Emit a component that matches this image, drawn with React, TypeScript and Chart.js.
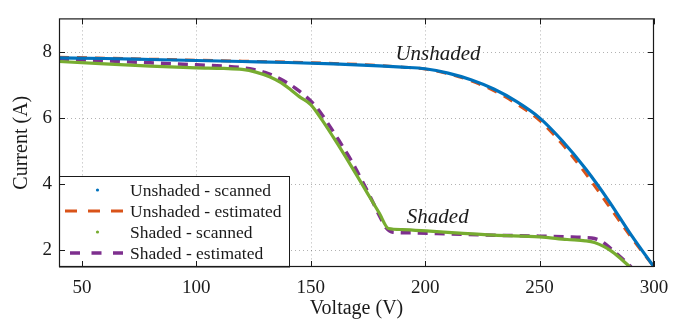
import React, { useEffect, useRef } from "react";
import { Chart, registerables } from "chart.js";

Chart.register(...registerables);

// Unshaded string, scanned operating points
const UNSHADED_SCANNED_V = [40, 60, 80, 100, 120, 140, 160, 180, 190, 200, 210, 220, 230, 240, 250, 260, 270, 280, 290, 300];
const UNSHADED_SCANNED_I = [7.81, 7.79, 7.76, 7.73, 7.70, 7.67, 7.63, 7.57, 7.53, 7.48, 7.35, 7.15, 6.87, 6.49, 6.0, 5.30, 4.47, 3.52, 2.47, 1.5];

// Unshaded string, model estimate
const UNSHADED_EST_V = [40, 60, 80, 100, 120, 140, 160, 180, 190, 200, 210, 220, 230, 240, 250, 260, 270, 280, 290, 300];
const UNSHADED_EST_I = [7.83, 7.80, 7.77, 7.74, 7.71, 7.68, 7.64, 7.58, 7.53, 7.47, 7.33, 7.12, 6.82, 6.42, 5.92, 5.20, 4.33, 3.37, 2.40, 1.5];

// Shaded string, scanned operating points
const SHADED_SCANNED_V = [40, 60, 80, 100, 112, 120, 126, 132, 137, 141, 145, 150, 155, 160, 165, 170, 175, 180, 184, 190, 202, 215, 230, 250, 262, 270, 274, 278, 282, 286, 289.5];
const SHADED_SCANNED_I = [7.70, 7.63, 7.56, 7.51, 7.49, 7.46, 7.38, 7.24, 7.06, 6.86, 6.64, 6.40, 5.93, 5.40, 4.85, 4.28, 3.70, 3.12, 2.66, 2.63, 2.58, 2.52, 2.46, 2.41, 2.33, 2.29, 2.24, 2.12, 1.95, 1.72, 1.5];

// Shaded string, model estimate
const SHADED_EST_V = [40, 60, 80, 100, 119, 125, 130, 137, 144, 152, 158, 163, 168, 172, 176, 180, 183, 186, 195, 210, 230, 250, 262, 270, 274, 277, 280, 284, 287, 290];
const SHADED_EST_I = [7.78, 7.72, 7.66, 7.60, 7.52, 7.46, 7.37, 7.16, 6.86, 6.36, 5.78, 5.24, 4.68, 4.16, 3.62, 3.05, 2.68, 2.55, 2.53, 2.50, 2.46, 2.43, 2.41, 2.39, 2.36, 2.28, 2.12, 1.88, 1.70, 1.5];

const X_TICKS = [50, 100, 150, 200, 250, 300];
const Y_TICKS = [2, 4, 6, 8];

const SERIES_LABELS = [
  "Unshaded - scanned",
  "Unshaded - estimated",
  "Shaded - scanned",
  "Shaded - estimated",
];
const SERIES_COLORS = ["#0072BD", "#D95319", "#77AC30", "#7E2F8E"];

// Curve names written next to each curve (voltage, current of the text's left baseline)
const CURVE_NAMES = ["Unshaded", "Shaded"];
const CURVE_NAME_V = [187, 192];
const CURVE_NAME_I = [7.75, 2.83];

const FONT = "'Liberation Serif', 'Times New Roman', serif";
const INK = "#1a1a1a";

const zip = (xs: number[], ys: number[]) => xs.map((x, i) => ({ x, y: ys[i] }));

// Dotted grid behind the curves
const gridPlugin = {
  id: "dottedGrid",
  beforeDatasetsDraw(chart: any) {
    const { ctx, chartArea: a, scales } = chart;
    ctx.save();
    ctx.strokeStyle = "rgba(0,0,0,0.3)";
    ctx.lineWidth = 1;
    ctx.setLineDash([1, 3]);
    X_TICKS.forEach((v) => {
      const px = Math.round(scales.x.getPixelForValue(v)) + 0.5;
      if (px > a.right - 1) return;
      ctx.beginPath();
      ctx.moveTo(px, a.top);
      ctx.lineTo(px, a.bottom);
      ctx.stroke();
    });
    Y_TICKS.forEach((v) => {
      const py = Math.round(scales.y.getPixelForValue(v)) + 0.5;
      ctx.beginPath();
      ctx.moveTo(a.left, py);
      ctx.lineTo(a.right, py);
      ctx.stroke();
    });
    ctx.restore();
  },
};

// Curve names, legend box, frame and inward tick marks
const framePlugin = {
  id: "frameAndLegend",
  afterDatasetsDraw(chart: any) {
    const { ctx, chartArea: a, scales } = chart;
    ctx.save();

    // curve names
    ctx.fillStyle = INK;
    ctx.font = `italic 21px ${FONT}`;
    ctx.textBaseline = "alphabetic";
    ctx.textAlign = "left";
    CURVE_NAMES.forEach((name, i) => {
      ctx.fillText(
        name,
        scales.x.getPixelForValue(CURVE_NAME_V[i]),
        scales.y.getPixelForValue(CURVE_NAME_I[i])
      );
    });

    // legend
    const lx = a.left + 0.5;
    const ly = 176.5;
    const lw = 230;
    const lh = a.bottom - ly;
    ctx.fillStyle = "#fff";
    ctx.fillRect(lx, ly, lw, lh);
    ctx.strokeStyle = INK;
    ctx.lineWidth = 1;
    ctx.setLineDash([]);
    ctx.strokeRect(lx, ly, lw, lh);

    ctx.font = `17.5px ${FONT}`;
    SERIES_LABELS.forEach((label, i) => {
      const base = 196 + i * 21;
      const cy = base - 6;
      ctx.fillStyle = INK;
      ctx.fillText(label, 130, base);
      ctx.strokeStyle = SERIES_COLORS[i];
      ctx.fillStyle = SERIES_COLORS[i];
      if (i === 0 || i === 2) {
        ctx.beginPath();
        ctx.arc(97.5, cy, 1.6, 0, Math.PI * 2);
        ctx.fill();
      } else if (i === 1) {
        ctx.lineWidth = 3;
        ctx.setLineDash([12, 11]);
        ctx.beginPath();
        ctx.moveTo(65, cy);
        ctx.lineTo(123, cy);
        ctx.stroke();
      } else {
        ctx.lineWidth = 3.5;
        ctx.setLineDash([10, 11.5]);
        ctx.beginPath();
        ctx.moveTo(70, cy);
        ctx.lineTo(123, cy);
        ctx.stroke();
      }
      ctx.setLineDash([]);
    });

    // frame
    ctx.strokeStyle = INK;
    ctx.lineWidth = 1.2;
    ctx.strokeRect(a.left + 0.5, a.top + 0.5, a.right - a.left - 1, a.bottom - a.top - 1);

    // inward tick marks on all four sides
    const tl = 6;
    ctx.lineWidth = 1;
    ctx.beginPath();
    X_TICKS.forEach((v) => {
      const px = Math.round(scales.x.getPixelForValue(v)) + 0.5;
      ctx.moveTo(px, a.bottom);
      ctx.lineTo(px, a.bottom - tl);
      ctx.moveTo(px, a.top);
      ctx.lineTo(px, a.top + tl);
    });
    Y_TICKS.forEach((v) => {
      const py = Math.round(scales.y.getPixelForValue(v)) + 0.5;
      ctx.moveTo(a.left, py);
      ctx.lineTo(a.left + tl, py);
      ctx.moveTo(a.right, py);
      ctx.lineTo(a.right - tl, py);
    });
    ctx.stroke();
    ctx.restore();
  },
};

export default function App() {
  const canvasRef = useRef<HTMLCanvasElement | null>(null);

  useEffect(() => {
    document.body.style.margin = "0";
    const canvas = canvasRef.current;
    if (!canvas) return;

    const lineBase = {
      pointRadius: 0,
      fill: false,
      cubicInterpolationMode: "monotone" as const,
      borderCapStyle: "butt" as const,
    };

    const chart = new Chart(canvas, {
      type: "line",
      data: {
        datasets: [
          {
            ...lineBase,
            label: SERIES_LABELS[0],
            data: zip(UNSHADED_SCANNED_V, UNSHADED_SCANNED_I),
            borderColor: SERIES_COLORS[0],
            borderWidth: 3.2,
          },
          {
            ...lineBase,
            label: SERIES_LABELS[1],
            data: zip(UNSHADED_EST_V, UNSHADED_EST_I),
            borderColor: SERIES_COLORS[1],
            borderWidth: 3,
            borderDash: [10, 8],
          },
          {
            ...lineBase,
            label: SERIES_LABELS[2],
            data: zip(SHADED_SCANNED_V, SHADED_SCANNED_I),
            borderColor: SERIES_COLORS[2],
            borderWidth: 3.2,
          },
          {
            ...lineBase,
            label: SERIES_LABELS[3],
            data: zip(SHADED_EST_V, SHADED_EST_I),
            borderColor: SERIES_COLORS[3],
            borderWidth: 3.5,
            borderDash: [10, 7],
          },
        ],
      },
      options: {
        responsive: false,
        animation: false,
        events: [],
        layout: { padding: { left: 0, right: 30, top: 7, bottom: 0 } },
        plugins: {
          legend: { display: false },
          tooltip: { enabled: false },
        },
        scales: {
          x: {
            type: "linear",
            min: 40,
            max: 300,
            afterBuildTicks: (scale: any) => {
              scale.ticks = X_TICKS.map((value) => ({ value }));
            },
            afterFit: (scale: any) => {
              scale.height = 63;
            },
            grid: { display: false, drawTicks: false },
            border: { display: false },
            ticks: {
              autoSkip: false,
              maxRotation: 0,
              padding: 10,
              color: INK,
              font: { family: FONT, size: 19 },
            },
            title: {
              display: true,
              text: "Voltage (V)",
              color: INK,
              font: { family: FONT, size: 20 },
              padding: { top: 0, bottom: 9 },
            },
          },
          y: {
            type: "linear",
            min: 1.5,
            max: 9,
            afterBuildTicks: (scale: any) => {
              scale.ticks = Y_TICKS.map((value) => ({ value }));
            },
            afterFit: (scale: any) => {
              scale.width = 59;
            },
            grid: { display: false, drawTicks: false },
            border: { display: false },
            ticks: {
              autoSkip: false,
              padding: 7,
              color: INK,
              font: { family: FONT, size: 19 },
            },
            title: {
              display: true,
              text: "Current (A)",
              color: INK,
              font: { family: FONT, size: 20 },
              padding: { top: 10, bottom: 0 },
            },
          },
        },
      },
      plugins: [gridPlugin, framePlugin],
    });

    return () => chart.destroy();
  }, []);

  return (
    <div style={{ width: 684, height: 330, background: "#fff" }}>
      <canvas ref={canvasRef} width={684} height={330} style={{ display: "block" }} />
    </div>
  );
}
